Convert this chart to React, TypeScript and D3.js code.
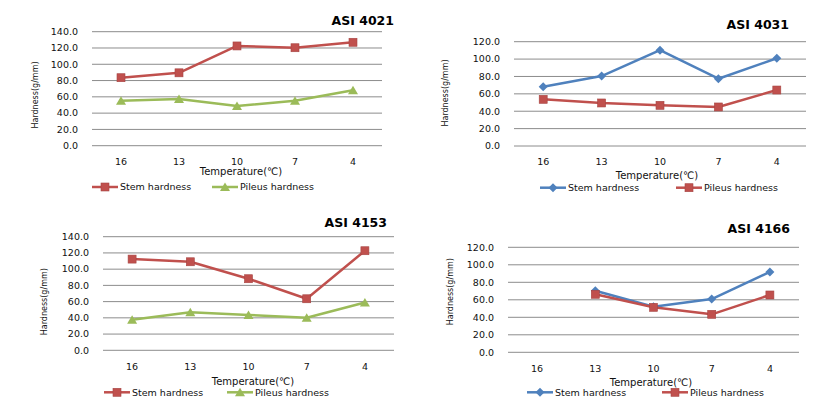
import React, { useEffect, useRef } from 'react';
import * as d3 from 'd3';

// temperature categories (℃), same for all four strains
const temps = ['16', '13', '10', '7', '4'];

// hardness values (g/mm)
const stem4021 = [83.5, 89.5, 122.5, 120.3, 127];
const pileus4021 = [55.3, 57.4, 48.8, 55.3, 68];
const stem4031 = [68.2, 80.5, 110.3, 77.4, 100.9];
const pileus4031 = [53.7, 49.5, 46.8, 44.9, 64.4];
const stem4153 = [112.4, 109.1, 88.2, 63.5, 122.7];
const pileus4153 = [37.7, 46.8, 43.5, 40.2, 59];
const stem4166 = [null, 70.4, 52.1, 60.9, 91.8];
const pileus4166 = [null, 66.3, 51.4, 43.4, 65.5];

const RED = '#C0504D';
const BLUE = '#4F81BD';
const GREEN = '#9BBB59';
const FONT = '"DejaVu Sans", Verdana, sans-serif';

type Series = { name: string; values: (number | null)[]; color: string; marker: 'square' | 'diamond' | 'triangle' };

const panels = [
    {
        title: 'ASI 4021', yMax: 140, x0: 92, x1: 382, yTop: 31.7, yBot: 145.7,
        titleX: 394, titleY: 21, yTitleX: 35, yTitleY: 95, xTitleX: 241, xTitleDy: 26,
        legendY: 187, legendX: [92, 212],
        series: [
            { name: 'Stem hardness', values: stem4021, color: RED, marker: 'square' },
            { name: 'Pileus hardness', values: pileus4021, color: GREEN, marker: 'triangle' },
        ] as Series[],
    },
    {
        title: 'ASI 4031', yMax: 120, x0: 514, x1: 806, yTop: 41.7, yBot: 146,
        titleX: 789, titleY: 25, yTitleX: 445, yTitleY: 93, xTitleX: 657, xTitleDy: 29,
        legendY: 187.7, legendX: [540, 676],
        series: [
            { name: 'Stem hardness', values: stem4031, color: BLUE, marker: 'diamond' },
            { name: 'Pileus hardness', values: pileus4031, color: RED, marker: 'square' },
        ] as Series[],
    },
    {
        title: 'ASI 4153', yMax: 140, x0: 103, x1: 394, yTop: 236.7, yBot: 350.3,
        titleX: 387, titleY: 222.7, yTitleX: 44, yTitleY: 301.7, xTitleX: 253, xTitleDy: 31,
        legendY: 392.3, legendX: [104, 227],
        series: [
            { name: 'Stem hardness', values: stem4153, color: RED, marker: 'square' },
            { name: 'Pileus hardness', values: pileus4153, color: GREEN, marker: 'triangle' },
        ] as Series[],
    },
    {
        title: 'ASI 4166', yMax: 120, x0: 508, x1: 799, yTop: 247.3, yBot: 352.3,
        titleX: 790, titleY: 228.3, yTitleX: 450, yTitleY: 291.7, xTitleX: 651, xTitleDy: 30,
        legendY: 392.3, legendX: [527, 662],
        series: [
            { name: 'Stem hardness', values: stem4166, color: BLUE, marker: 'diamond' },
            { name: 'Pileus hardness', values: pileus4166, color: RED, marker: 'square' },
        ] as Series[],
    },
];

const drawMarker = (g: any, kind: string, color: string, x: number, y: number) => {
    if (kind === 'square') {
        g.append('rect').attr('x', x - 4).attr('y', y - 4).attr('width', 8).attr('height', 8)
            .attr('fill', color).attr('stroke', d3.color(color)!.darker(0.4).toString()).attr('stroke-width', 0.6);
    } else if (kind === 'diamond') {
        g.append('path').attr('d', `M${x},${y - 4.5}L${x + 4.5},${y}L${x},${y + 4.5}L${x - 4.5},${y}Z`)
            .attr('fill', color);
    } else {
        g.append('path').attr('d', `M${x},${y - 4.5}L${x + 5},${y + 4}L${x - 5},${y + 4}Z`)
            .attr('fill', color);
    }
};

const App = () => {
    const ref = useRef<SVGSVGElement>(null);

    useEffect(() => {
        const svg = d3.select(ref.current);
        svg.selectAll('*').remove();

        panels.forEach((p) => {
            const g = svg.append('g');
            const x = d3.scaleBand().domain(temps).range([p.x0, p.x1]);
            const y = d3.scaleLinear().domain([0, p.yMax]).range([p.yBot, p.yTop]);
            const ticks = d3.range(0, p.yMax + 1, 20);

            // gridlines
            g.selectAll('.grid').data(ticks).enter().append('line')
                .attr('x1', p.x0).attr('x2', p.x1)
                .attr('y1', (d) => y(d)).attr('y2', (d) => y(d))
                .attr('stroke', '#8c8c8c').attr('stroke-width', 1);

            // y tick labels
            g.selectAll('.ytick').data(ticks).enter().append('text')
                .attr('x', p.x0 - 14).attr('y', (d) => y(d)).attr('dy', '0.35em')
                .attr('text-anchor', 'end').style('font-family', FONT).style('font-size', '9.5px')
                .attr('fill', '#111').text((d) => d3.format('.1f')(d));

            // x tick labels
            g.selectAll('.xtick').data(temps).enter().append('text')
                .attr('x', (d) => x(d)! + x.bandwidth() / 2).attr('y', p.yBot + 16).attr('dy', '0.35em')
                .attr('text-anchor', 'middle').style('font-family', FONT).style('font-size', '9.5px')
                .attr('fill', '#111').text((d) => d);

            // axis titles
            g.append('text').attr('x', p.xTitleX).attr('y', p.yBot + p.xTitleDy).attr('dy', '0.35em')
                .attr('text-anchor', 'middle').style('font-family', FONT).style('font-size', '10px')
                .attr('fill', '#111').text('Temperature(℃)');
            g.append('text')
                .attr('transform', `translate(${p.yTitleX},${p.yTitleY}) rotate(-90)`).attr('dy', '0.35em')
                .attr('text-anchor', 'middle').style('font-family', FONT).style('font-size', '8px')
                .attr('fill', '#111').text('Hardness(g/mm)');

            // title
            g.append('text').attr('x', p.titleX).attr('y', p.titleY).attr('dy', '0.35em')
                .attr('text-anchor', 'end').style('font-family', FONT).style('font-size', '12.5px')
                .style('font-weight', 'bold').attr('fill', '#000').text(p.title);

            // series lines and markers
            p.series.forEach((s) => {
                const line = d3.line<number | null>()
                    .defined((d) => d !== null)
                    .x((_, i) => x(temps[i])! + x.bandwidth() / 2)
                    .y((d) => y(d as number));
                g.append('path').datum(s.values).attr('d', line)
                    .attr('fill', 'none').attr('stroke', s.color).attr('stroke-width', 2.5)
                    .attr('stroke-linejoin', 'round');
                s.values.forEach((v, i) => {
                    if (v === null) return;
                    drawMarker(g, s.marker, s.color, x(temps[i])! + x.bandwidth() / 2, y(v));
                });
            });

            // legend
            p.series.forEach((s, i) => {
                const lx = p.legendX[i];
                g.append('line').attr('x1', lx).attr('x2', lx + 26)
                    .attr('y1', p.legendY).attr('y2', p.legendY)
                    .attr('stroke', s.color).attr('stroke-width', 2.5);
                drawMarker(g, s.marker, s.color, lx + 13, p.legendY);
                g.append('text').attr('x', lx + 28).attr('y', p.legendY).attr('dy', '0.35em')
                    .style('font-family', FONT).style('font-size', '9.5px').attr('fill', '#111')
                    .text(s.name);
            });
        });
    }, []);

    return (
        <svg ref={ref} width={838} height={414}
            style={{ position: 'absolute', left: 0, top: 0, background: '#fff' }} />
    );
};

export default App;
